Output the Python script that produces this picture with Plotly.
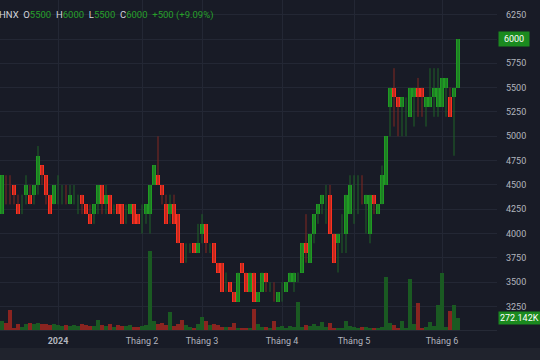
import plotly.graph_objects as go

# ---- data (HNX daily, Dec 2023 - Jun 2024) ----
opens = [4200,4500,4400,4500,4300,4400,4400,4400,4400,4500,4700,4600,4400,4300,4500,4500,4400,4300,4400,4400,
         4400,4300,4200,4200,4300,4500,4300,4400,4300,4300,4300,4200,4200,4300,4200,4200,4200,4200,4500,4600,
         4500,4300,4200,4300,4200,3900,3800,3800,3900,3800,4000,4100,3900,3900,3700,3700,3500,3500,3400,3300,
         3700,3600,3400,3600,3300,3400,3600,3500,3400,3300,3400,3400,3500,3500,3600,3600,3900,3700,4000,4200,
         4300,4400,4400,4000,3900,4000,4000,4200,4500,4500,4400,4300,4000,4400,4200,4300,4500,5300,5500,5400,
         5300,5400,5200,5400,5500,5500,5300,5300,5400,5300,5300,5500,5400,5400,5500]
highs = [4600,4600,4600,4500,4400,4400,4600,4500,4500,4900,4700,4600,4400,4500,4600,4500,4500,4500,4500,4400,
         4400,4300,4300,4300,4500,4500,4500,4400,4300,4300,4300,4300,4300,4300,4200,4300,4300,4500,4700,5000,
         4500,4400,4400,4400,4200,3900,3900,3900,3900,4100,4200,4100,3900,3900,3700,3700,3600,3500,3400,3600,
         3700,3600,3600,3600,3400,3600,3600,3500,3500,3400,3500,3500,3600,3600,3600,3900,4200,4000,4200,4300,
         4400,4500,4500,4000,4000,4200,4400,4600,4600,4600,4600,4400,4400,4400,4300,4700,5000,5500,5700,5400,
         5400,5400,5500,5500,5600,5500,5400,5700,5700,5700,5600,5600,5500,5500,6000]
lows = [4200,4300,4300,4300,4200,4200,4300,4300,4300,4400,4500,4300,4200,4300,4300,4300,4300,4300,4300,4200,
        4200,4200,4100,4100,4200,4200,4200,4200,4200,4200,4100,4100,4200,4100,4100,4000,4100,4000,4500,4500,
        4300,4100,4100,4100,3900,3700,3700,3800,3800,3800,3900,3800,3800,3700,3600,3400,3400,3400,3300,3300,
        3600,3400,3400,3300,3300,3400,3400,3400,3300,3300,3300,3400,3500,3400,3500,3600,3700,3700,3900,4100,
        4200,4100,4000,3700,3600,3800,3800,4200,4100,4200,4300,4000,3900,4200,4200,4300,4500,5000,5100,5000,
        5000,5000,5200,5100,5200,5200,5100,5300,5200,5200,5300,5200,5200,4800,5500]
closes = [4600,4500,4400,4400,4200,4400,4500,4300,4500,4800,4600,4400,4200,4500,4500,4500,4400,4400,4400,4400,
          4300,4200,4100,4300,4500,4300,4400,4200,4300,4200,4100,4200,4300,4100,4100,4200,4300,4500,4700,4500,
          4400,4100,4300,4100,3900,3700,3800,3800,3800,3900,4100,3900,3900,3700,3600,3400,3500,3400,3300,3600,
          3600,3400,3600,3300,3400,3600,3500,3500,3400,3400,3400,3500,3600,3600,3600,3900,3800,4000,4200,4300,
          4400,4400,4000,3700,4000,4000,4400,4500,4500,4500,4400,4400,4400,4300,4300,4600,5000,5500,5400,5300,
          5400,5400,5500,5500,5400,5400,5400,5400,5500,5500,5600,5600,5200,5500,6000]
volumes = [200,160,450,30,140,70,140,160,140,160,140,130,110,140,120,100,110,90,120,100,
           130,110,90,80,230,110,90,130,70,120,100,90,110,70,60,80,120,1800,200,140,
           150,110,420,100,130,220,110,70,50,140,290,200,110,140,110,70,70,70,160,50,
           30,30,40,480,140,70,70,50,200,60,90,50,80,60,640,75,110,90,130,100,
           180,60,170,50,40,30,200,80,60,50,70,60,50,50,40,70,1200,160,110,50,
           200,50,1160,140,610,50,60,180,80,570,1300,60,430,570,272.142]
volumes = [v * 1000 for v in volumes]
tick_pos = [14, 35, 50, 70, 88, 110]
tick_text = ["<b>2024</b>", "Tháng 2", "Tháng 3", "Tháng 4", "Tháng 5", "Tháng 6"]
price_ticks = [3250, 3500, 3750, 4000, 4250, 4500, 4750, 5000, 5250, 5500, 5750, 6000, 6250]

n = len(closes)
xs = list(range(n))
last = n - 1

UP, DN = "#1f9b22", "#ff2f1f"
UPW, DNW = "#1e6426", "#822821"
UPV, DNV = "#1a5a22", "#8a2420"
BG = "#181b26"
GRID = "#232734"

def direction(i):
    if closes[i] > opens[i]:
        return 1
    if closes[i] < opens[i]:
        return -1
    prev = closes[i - 1] if i > 0 else opens[i]
    return 1 if closes[i] >= prev else -1

dirs = [direction(i) for i in xs]

fig = go.Figure()

# volume (bottom, own axis)
fig.add_trace(go.Bar(x=xs, y=volumes, yaxis="y", width=0.8,
                     marker=dict(color=[UPV if d > 0 else DNV for d in dirs], line=dict(width=0)),
                     hoverinfo="skip", showlegend=False))

# wicks
for sgn, col in ((1, UPW), (-1, DNW)):
    wx, wy = [], []
    for i in xs:
        if dirs[i] == sgn:
            wx += [i, i, None]
            wy += [lows[i], highs[i], None]
    fig.add_trace(go.Scatter(x=wx, y=wy, yaxis="y2", mode="lines",
                             line=dict(color=col, width=1), hoverinfo="skip", showlegend=False))

# bodies
bx, bbase, blen, bcol = [], [], [], []
for i in xs:
    if opens[i] != closes[i]:
        bx.append(i)
        bbase.append(min(opens[i], closes[i]))
        blen.append(abs(closes[i] - opens[i]))
        bcol.append(UP if closes[i] > opens[i] else DN)
fig.add_trace(go.Bar(x=bx, y=blen, base=bbase, yaxis="y2", width=0.85,
                     marker=dict(color=bcol, line=dict(width=0)),
                     hoverinfo="skip", showlegend=False))

chg = closes[last] - closes[last - 1]
pct = chg / closes[last - 1] * 100
g = "#27a02a"
hdr = ("HNX  O<span style='color:%s'>%d</span>  H<span style='color:%s'>%d</span>  "
       "L<span style='color:%s'>%d</span>  C<span style='color:%s'>%d</span>  "
       "<span style='color:%s'>%+d (%+.2f%%)</span>") % (
    g, opens[last], g, highs[last], g, lows[last], g, closes[last], g, chg, pct)

# the current-price level is labelled by its own box instead of a plain tick label
price_text = ["" if t == closes[last] else str(t) for t in price_ticks]

fig.update_layout(
    width=540, height=360,
    margin=dict(l=0, r=43, t=0, b=30),
    paper_bgcolor=BG, plot_bgcolor=BG,
    barmode="overlay", bargap=0,
    font=dict(family="Roboto, Arial, sans-serif", size=9, color="#b2b5be"),
    xaxis=dict(range=[-0.5, 123.75], tickmode="array", tickvals=tick_pos, ticktext=tick_text,
               showgrid=True, gridcolor=GRID, gridwidth=1, zeroline=False,
               showline=True, linecolor="#262a36", ticks="", ticklabelstandoff=2,
               tickfont=dict(size=9, color="#b2b5be")),
    yaxis=dict(range=[0, 7.49e6], visible=False, showgrid=False, fixedrange=True),
    yaxis2=dict(range=[3009, 6401], overlaying="y", side="right", tickmode="array",
                tickvals=price_ticks, ticktext=price_text,
                showgrid=True, gridcolor=GRID, gridwidth=1, zeroline=False,
                ticks="", ticklabelstandoff=8, tickfont=dict(size=9, color="#b2b5be")),
    showlegend=False,
    annotations=[
        dict(xref="paper", yref="paper", x=0, y=1, xshift=-3, yshift=-15, xanchor="left", yanchor="middle",
             text=hdr, showarrow=False, font=dict(size=9.5, color="#d1d4dc")),
        dict(xref="paper", yref="y2", x=1, y=closes[last], xanchor="left", yanchor="middle", xshift=1,
             text="%d" % closes[last], showarrow=False, bgcolor="#1b8a1f", borderpad=2,
             font=dict(size=9, color="#ffffff"), width=26),
        dict(xref="paper", yref="y", x=1, y=volumes[last], xanchor="left", yanchor="middle", xshift=1,
             text="%.3fK" % (volumes[last] / 1000), showarrow=False, bgcolor="#1b8a1f", borderpad=1,
             font=dict(size=9, color="#ffffff")),
    ],
    shapes=[dict(type="rect", xref="paper", yref="paper", x0=0, x1=1.2, y0=-30/330, y1=-18/330,
                 fillcolor="#20232d", line=dict(width=0), layer="below")],
)

fig.write_html("out.html", config={"displayModeBar": False},
               post_script="document.body.style.margin='0';document.body.style.overflow='hidden';")
